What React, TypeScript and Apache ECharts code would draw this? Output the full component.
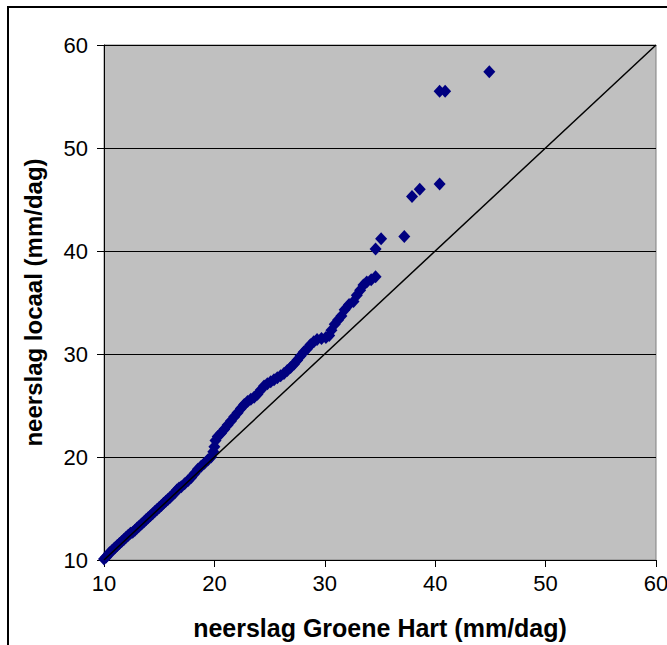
import React, { useEffect, useRef } from "react";
import * as echarts from "echarts";

// neerslag Groene Hart (mm/dag)
const groeneHart: number[] = [
  10.0, 10.2, 10.4, 10.5, 10.7, 10.9, 11.0, 11.2, 11.4, 11.6, 11.8, 12.0, 12.2, 12.4, 12.6, 12.8,
  13.0, 13.2, 13.4, 13.6, 13.8, 14.0, 14.2, 14.4, 14.6, 14.8, 15.0, 15.2, 15.4, 15.6, 15.8, 16.0,
  16.2, 16.4, 16.6, 16.8, 17.0, 17.3, 17.6, 17.9, 18.2, 18.5, 18.8, 19.1, 19.4, 19.7, 19.9, 20.0,
  20.1, 20.3, 20.6, 20.9, 21.2, 21.5, 21.8, 22.1, 22.4, 22.7, 23.0, 23.3, 23.6, 23.9, 24.2, 24.5,
  24.8, 25.1, 25.4, 25.7, 26.0, 26.3, 26.6, 26.9, 27.2, 27.5, 27.8, 28.1, 28.4, 28.7, 29.0, 29.3,
  29.7, 30.1, 30.4, 30.6, 30.9, 31.2, 31.5, 31.8, 32.2, 32.6, 32.9, 33.2, 33.5, 33.8, 34.2, 34.6,
  34.6, 35.1, 37.2, 37.9, 38.6, 40.4, 40.4, 40.9, 44.9,
];

// neerslag locaal (mm/dag)
const locaal: number[] = [
  10.1, 10.3, 10.5, 10.7, 10.9, 11.1, 11.2, 11.4, 11.6, 11.8, 12.0, 12.2, 12.4, 12.6, 12.7, 12.9,
  13.1, 13.3, 13.5, 13.7, 13.9, 14.1, 14.3, 14.5, 14.7, 14.9, 15.1, 15.3, 15.5, 15.7, 15.9, 16.1,
  16.3, 16.5, 16.8, 17.0, 17.1, 17.4, 17.7, 18.0, 18.4, 18.8, 19.1, 19.4, 19.7, 20.0, 20.5, 21.0,
  21.6, 22.0, 22.3, 22.7, 23.1, 23.5, 23.9, 24.3, 24.7, 25.1, 25.4, 25.6, 25.8, 26.1, 26.5, 26.9,
  27.1, 27.3, 27.5, 27.7, 27.9, 28.1, 28.4, 28.7, 29.0, 29.4, 29.8, 30.2, 30.5, 30.9, 31.2, 31.4,
  31.5, 31.6, 31.8, 32.3, 32.9, 33.3, 33.7, 34.3, 34.8, 35.1, 35.7, 36.2, 36.7, 37.0, 37.2, 37.5,
  40.2, 41.2, 41.4, 45.3, 46.0, 46.5, 55.5, 55.5, 57.4,
];

// 1:1 reference line
const diagonalX: number[] = [10, 60];
const diagonalY: number[] = [10, 60];

const axisMin = 10;
const axisMax = 60;
const axisStep = 10;

const xTitle = "neerslag Groene Hart (mm/dag)";
const yTitle = "neerslag locaal (mm/dag)";

const FONT = "'Liberation Sans', Arial, Helvetica, sans-serif";

export default function App() {
  const ref = useRef<HTMLDivElement>(null);

  useEffect(() => {
    if (!ref.current) return;
    const chart = echarts.init(ref.current, undefined, { renderer: "svg" });

    const scatterData = groeneHart.map((x, i) => [x, locaal[i]]);
    const lineData = diagonalX.map((x, i) => [x, diagonalY[i]]);

    const axisCommon = {
      type: "value" as const,
      min: axisMin,
      max: axisMax,
      interval: axisStep,
      axisLine: { show: true, lineStyle: { color: "#000", width: 1 } },
      axisTick: { show: true, inside: false, length: 7, lineStyle: { color: "#000", width: 1 } },
      nameLocation: "middle" as const,
    };

    chart.setOption({
      animation: false,
      backgroundColor: "#fff",
      graphic: [
        {
          type: "rect",
          shape: { x: 8, y: 7, width: 700, height: 700 },
          style: { fill: "none", stroke: "#000", lineWidth: 2 },
          silent: true,
          z: 100,
        },
      ],
      grid: {
        left: 104,
        top: 45,
        right: 11,
        bottom: 85,
        show: true,
        backgroundColor: "#C0C0C0",
        borderColor: "#808080",
        borderWidth: 1,
        outerBoundsMode: "none",
        containLabel: false,
      },
      xAxis: {
        ...axisCommon,
        name: xTitle,
        nameGap: 55,
        nameTextStyle: { fontFamily: FONT, fontWeight: "bold", fontSize: 25, color: "#000" },
        splitLine: { show: false },
        axisLabel: { fontFamily: FONT, fontSize: 22, color: "#000", margin: 12 },
      },
      yAxis: {
        ...axisCommon,
        name: yTitle,
        nameGap: 59,
        nameTextStyle: { fontFamily: FONT, fontWeight: "bold", fontSize: 24, color: "#000" },
        splitLine: { show: true, lineStyle: { color: "#000", width: 1 } },
        axisLabel: { fontFamily: FONT, fontSize: 22, color: "#000", margin: 16 },
      },
      series: [
        {
          type: "scatter",
          data: scatterData,
          symbol: "diamond",
          symbolSize: [12, 13],
          itemStyle: { color: "#000080", opacity: 1 },
          z: 2,
        },
        {
          type: "line",
          data: lineData,
          symbol: "none",
          lineStyle: { color: "#000", width: 1.5 },
          z: 3,
        },
      ],
    });

    return () => chart.dispose();
  }, []);

  return (
    <div
      ref={ref}
      style={{ position: "absolute", left: 0, top: 0, width: 667, height: 645 }}
    />
  );
}
